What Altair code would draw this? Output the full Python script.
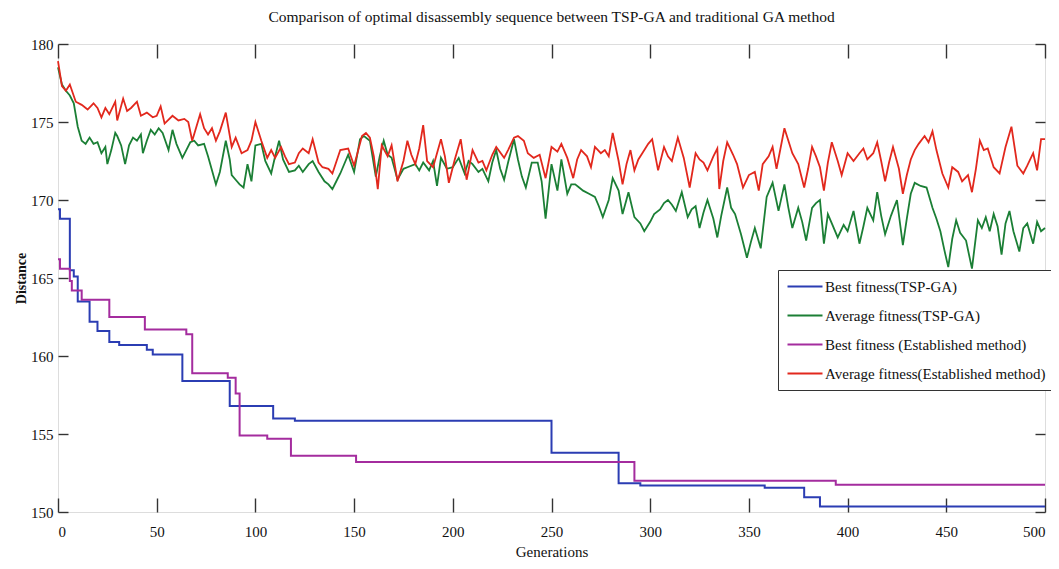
import altair as alt
import pandas as pd

FONT = "Liberation Serif"

series_names = [
    "Best fitness(TSP-GA)",
    "Average fitness(TSP-GA)",
    "Best fitness (Established method)",
    "Average fitness(Established method)",
]
series_colors = ["#2b3db3", "#1b7f35", "#a42c9e", "#e2281d"]

x_ticks = [0, 50, 100, 150, 200, 250, 300, 350, 400, 450, 500]
y_ticks = [150, 155, 160, 165, 170, 175, 180]

# [generation, distance] change points of the best-fitness step curves
best_tsp = [
    [0, 169.4], [1, 168.8], [6, 165.5], [8, 165.1], [10, 163.5], [16, 162.2],
    [20, 161.6], [26, 160.9], [31, 160.7], [45, 160.4], [48, 160.1], [63, 158.4],
    [87, 156.8], [109, 156.0], [120, 155.85], [250, 153.8], [284, 151.85],
    [295, 151.7], [358, 151.55], [378, 150.95], [386, 150.35], [500, 150.35],
]
best_est = [
    [0, 166.2], [1, 165.6], [6, 164.8], [7, 164.2], [12, 163.6], [26, 162.5],
    [44, 161.7], [65, 161.4], [68, 158.9], [86, 158.6], [90, 157.6], [92, 154.9],
    [106, 154.7], [118, 153.6], [151, 153.2], [292, 152.0], [394, 151.75],
    [500, 151.75],
]

# [generation, distance] readings of the average-fitness curves
avg_tsp = [
    [0, 178.5], [2, 177.4], [4, 177.0], [6, 176.7], [8, 176.2], [10, 174.7],
    [12, 173.8], [14, 173.6], [16, 174.0], [18, 173.6], [20, 173.7], [22, 173.0],
    [24, 173.4], [25, 172.3], [27, 173.2], [29, 174.3], [30, 174.1], [32, 173.5],
    [34, 172.3], [36, 173.5], [38, 174.0], [40, 173.8], [42, 174.2], [43, 173.0],
    [45, 173.8], [47, 174.5], [49, 174.2], [51, 174.6], [53, 174.3], [56, 173.2],
    [58, 174.5], [60, 173.6], [63, 172.7], [65, 173.2], [67, 173.7], [69, 173.8],
    [71, 173.5], [74, 173.6], [76, 172.8], [78, 171.9], [80, 171.0], [82, 171.8],
    [85, 173.8], [87, 172.6], [88, 171.6], [90, 171.3], [92, 171.0], [94, 170.8],
    [96, 172.3], [98, 171.2], [100, 173.5], [103, 173.6], [105, 172.5], [108, 171.7],
    [110, 172.8], [112, 173.8], [114, 172.6], [117, 171.8], [120, 171.9], [122, 172.2],
    [124, 171.8], [127, 172.3], [129, 172.5], [132, 171.8], [135, 171.2], [137, 171.0],
    [139, 170.7], [141, 171.2], [143, 171.7], [147, 172.9], [150, 171.8], [153, 173.9],
    [155, 174.1], [158, 173.8], [161, 171.5], [163, 172.8], [165, 173.8], [167, 172.9],
    [169, 172.7], [172, 171.3], [175, 172.0], [177, 172.1], [181, 172.3], [183, 171.9],
    [185, 172.4], [188, 171.9], [190, 172.5], [192, 170.9], [194, 172.7], [197, 172.0],
    [200, 172.1], [203, 172.7], [206, 171.7], [208, 172.5], [210, 172.3], [213, 171.8],
    [215, 172.0], [218, 171.2], [220, 172.4], [222, 173.2], [224, 172.0], [226, 171.3],
    [228, 172.4], [231, 173.9], [233, 172.6], [235, 171.5], [237, 170.8], [240, 172.4],
    [243, 172.4], [245, 171.2], [247, 168.8], [250, 172.3], [253, 170.6], [255, 172.6],
    [258, 170.4], [260, 171.0], [262, 171.0], [264, 170.8], [266, 170.6], [269, 170.4],
    [272, 170.2], [274, 169.6], [276, 168.9], [279, 170.0], [281, 171.4], [284, 170.6],
    [286, 169.1], [289, 170.5], [292, 168.9], [295, 168.5], [297, 168.0], [300, 168.6],
    [302, 169.1], [305, 169.4], [307, 169.8], [309, 170.0], [311, 169.7], [313, 169.3],
    [316, 170.5], [319, 168.9], [321, 169.4], [323, 169.6], [325, 168.2], [327, 169.2],
    [329, 170.0], [332, 168.8], [334, 167.6], [336, 169.0], [339, 170.8], [341, 169.5],
    [343, 169.1], [346, 167.8], [349, 166.3], [351, 167.3], [353, 168.2], [356, 166.9],
    [359, 170.2], [362, 171.1], [365, 169.3], [368, 171.0], [370, 169.5], [372, 168.2],
    [375, 169.5], [377, 168.6], [379, 167.4], [382, 169.5], [384, 169.8], [386, 170.0],
    [388, 167.2], [390, 169.1], [392, 168.5], [395, 167.6], [398, 168.4], [400, 168.0],
    [403, 169.3], [406, 167.2], [408, 168.3], [410, 169.5], [413, 168.7], [415, 170.5],
    [417, 169.0], [419, 167.8], [422, 169.0], [425, 170.0], [428, 167.1], [430, 168.8],
    [432, 170.4], [434, 171.1], [437, 170.9], [440, 170.8], [443, 169.5], [445, 168.8],
    [447, 168.0], [449, 166.8], [451, 165.7], [453, 167.5], [455, 168.7], [457, 167.9],
    [460, 167.4], [463, 165.6], [466, 168.7], [468, 168.2], [470, 168.9], [472, 168.0],
    [474, 169.1], [476, 168.3], [478, 166.5], [480, 168.5], [482, 169.3], [484, 168.0],
    [487, 166.7], [489, 168.2], [491, 168.5], [494, 167.2], [496, 168.6], [498, 168.0],
    [500, 168.2],
]
avg_est = [
    [0, 178.9], [2, 177.3], [4, 177.0], [6, 177.4], [9, 176.3], [12, 176.1],
    [15, 175.8], [18, 176.2], [20, 175.9], [22, 175.3], [24, 175.9], [26, 175.5],
    [29, 176.3], [30, 175.1], [33, 176.5], [35, 175.7], [37, 175.9], [40, 176.3],
    [42, 175.4], [45, 175.6], [48, 175.3], [50, 175.4], [52, 176.0], [54, 174.9],
    [58, 175.4], [61, 175.1], [64, 175.2], [66, 175.0], [68, 173.8], [72, 175.5],
    [74, 174.6], [76, 174.2], [78, 174.6], [80, 173.8], [82, 174.4], [85, 175.6],
    [88, 173.4], [90, 174.0], [93, 173.0], [96, 173.2], [98, 173.8], [100, 175.0],
    [103, 173.8], [106, 172.7], [108, 173.2], [110, 172.7], [113, 173.4], [115, 172.8],
    [117, 172.3], [120, 172.4], [122, 173.0], [124, 173.3], [127, 173.0], [129, 173.9],
    [132, 172.4], [134, 172.1], [137, 172.0], [139, 171.7], [143, 173.2], [147, 173.3],
    [150, 172.2], [154, 174.1], [156, 174.3], [158, 174.0], [160, 172.8], [162, 170.7],
    [164, 173.5], [167, 172.8], [169, 173.5], [172, 171.2], [175, 172.5], [177, 173.8],
    [179, 172.9], [181, 172.3], [183, 173.3], [185, 174.8], [187, 172.5], [190, 172.1],
    [192, 173.0], [194, 173.9], [196, 172.8], [198, 171.1], [201, 172.6], [204, 173.9],
    [207, 171.3], [210, 173.2], [213, 172.4], [215, 172.5], [217, 171.9], [220, 172.9],
    [222, 173.4], [226, 172.7], [228, 173.2], [231, 174.0], [233, 174.1], [236, 173.8],
    [238, 173.0], [241, 172.7], [244, 172.9], [247, 171.4], [250, 173.4], [253, 173.1],
    [255, 173.6], [258, 172.7], [261, 171.4], [263, 172.6], [265, 173.2], [268, 172.8],
    [270, 172.1], [272, 173.4], [275, 173.0], [277, 173.2], [279, 172.8], [281, 174.3],
    [284, 172.5], [286, 171.0], [288, 172.3], [290, 173.2], [292, 171.9], [294, 172.6],
    [296, 173.0], [299, 173.6], [301, 173.9], [304, 171.9], [307, 173.4], [309, 172.8],
    [311, 172.5], [314, 174.0], [317, 172.7], [320, 170.8], [323, 173.0], [325, 172.6],
    [327, 172.4], [329, 171.9], [332, 172.8], [334, 173.3], [335, 170.7], [337, 172.5],
    [339, 173.7], [342, 172.9], [344, 172.3], [347, 170.8], [350, 171.6], [353, 171.8],
    [355, 170.6], [357, 172.3], [360, 172.8], [362, 173.4], [364, 172.0], [366, 173.3],
    [368, 174.6], [370, 173.8], [372, 173.0], [375, 172.3], [378, 170.8], [380, 172.0],
    [382, 173.4], [384, 172.8], [386, 172.1], [388, 170.6], [390, 172.4], [392, 173.7],
    [395, 172.5], [397, 171.6], [400, 173.0], [403, 172.5], [406, 173.0], [408, 173.3],
    [410, 172.6], [413, 173.0], [415, 173.7], [417, 172.5], [419, 171.2], [421, 172.4],
    [423, 173.4], [426, 172.0], [428, 170.4], [430, 171.6], [432, 172.6], [434, 173.2],
    [436, 173.6], [439, 174.1], [441, 173.7], [443, 174.4], [445, 173.2], [448, 171.7],
    [451, 170.8], [453, 172.1], [456, 171.8], [458, 171.2], [461, 171.6], [463, 170.5],
    [465, 172.0], [467, 173.8], [469, 173.2], [471, 173.3], [474, 172.1], [477, 171.7],
    [480, 173.4], [483, 174.7], [486, 172.2], [489, 171.7], [491, 172.2], [494, 173.0],
    [496, 171.9], [498, 173.9], [500, 173.9],
]


def to_frame(pairs, name):
    return pd.DataFrame({"gen": [p[0] for p in pairs],
                         "val": [p[1] for p in pairs],
                         "series": name})


df_best = pd.concat([to_frame(best_tsp, series_names[0]),
                     to_frame(best_est, series_names[2])], ignore_index=True)
df_avg = pd.concat([to_frame(avg_tsp, series_names[1]),
                    to_frame(avg_est, series_names[3])], ignore_index=True)

x_scale = alt.Scale(domain=[0, 500], nice=False, zero=False)
y_scale = alt.Scale(domain=[150, 180], nice=False, zero=False)
color_scale = alt.Scale(domain=series_names, range=series_colors)

legend = alt.Legend(
    title=None, orient="none", legendX=720, legendY=226, direction="vertical",
    symbolType="M-1,0H4", symbolSize=196, symbolStrokeWidth=2.2,
    labelFont=FONT, labelFontSize=15, labelColor="#111", labelLimit=400,
    strokeColor="#333", fillColor="white", padding=8, rowPadding=12,
    labelOffset=22,
)

main_x_axis = alt.Axis(
    orient="bottom", values=x_ticks, ticks=False, domain=False, grid=False,
    labelFont=FONT, labelFontSize=15, labelColor="#111", labelPadding=12,
    title="Generations", titleFont=FONT, titleFontSize=15, titleFontWeight="normal",
    titleColor="#111", titlePadding=5,
)
main_y_axis = alt.Axis(
    orient="left", values=y_ticks, ticks=False, domain=False, grid=False,
    labelFont=FONT, labelFontSize=15, labelColor="#111", labelPadding=5,
    title="Distance", titleFont=FONT, titleFontSize=14, titleFontWeight="bold",
    titleColor="#111", titlePadding=2,
)


def tick_axis(orient, values, size):
    return alt.Axis(orient=orient, values=values, labels=False, domain=False,
                    grid=False, ticks=True, tickSize=size, offset=-size,
                    tickColor="#333", tickWidth=1.4, title=None)


color_enc = alt.Color("series:N", scale=color_scale, legend=legend)

best_layer = alt.Chart(df_best).mark_line(interpolate="step-after", strokeWidth=2).encode(
    x=alt.X("gen:Q", scale=x_scale, axis=main_x_axis),
    y=alt.Y("val:Q", scale=y_scale, axis=main_y_axis),
    color=color_enc,
)
avg_layer = alt.Chart(df_avg).mark_line(strokeWidth=1.8).encode(
    x=alt.X("gen:Q", scale=x_scale, axis=None),
    y=alt.Y("val:Q", scale=y_scale, axis=None),
    color=color_enc,
)
ticks_bl = alt.Chart(df_best).mark_line(opacity=0).encode(
    x=alt.X("gen:Q", scale=x_scale, axis=tick_axis("bottom", x_ticks, 14)),
    y=alt.Y("val:Q", scale=y_scale, axis=tick_axis("left", y_ticks, 10)),
)
ticks_tr = alt.Chart(df_best).mark_line(opacity=0).encode(
    x=alt.X("gen:Q", scale=x_scale, axis=tick_axis("top", x_ticks, 14)),
    y=alt.Y("val:Q", scale=y_scale, axis=tick_axis("right", y_ticks, 10)),
)

chart = alt.layer(best_layer, avg_layer, ticks_bl, ticks_tr).resolve_axis(
    x="independent", y="independent"
).properties(
    width=987, height=468,
    autosize="none",
    padding={"left": 50, "top": 36, "right": 6, "bottom": 57},
    title=alt.TitleParams(
        text="Comparison of optimal disassembly sequence between TSP-GA and traditional GA method",
        font=FONT, fontSize=15.5, fontWeight="normal", color="#111",
        anchor="middle", offset=12,
    ),
).configure_view(
    stroke="#333", strokeWidth=1.2
).configure(background="white")

chart.save("out.html", embed_options={"renderer": "svg", "actions": False})
